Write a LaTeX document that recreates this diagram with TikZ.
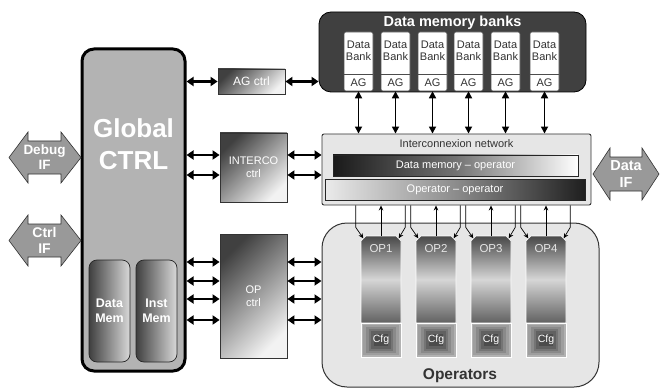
\documentclass[tikz,border=0pt]{standalone}
\usepackage{fontspec}
\setmainfont{Liberation Sans}
\usetikzlibrary{arrows.meta,calc}
\definecolor{dkbox}{HTML}{404040}
\definecolor{ltbox}{HTML}{E6E6E6}
\definecolor{gctrlc}{HTML}{B3B3B3}
\definecolor{txtd}{HTML}{333333}
\definecolor{ifgray}{HTML}{999999}
\begin{document}
\begin{tikzpicture}[x=1pt,y=-1pt,
  dar/.style={line width=2.6pt,{Triangle[width=9pt,length=7pt]}-{Triangle[width=9pt,length=7pt]}},
  var/.style={line width=1.6pt,{Triangle[width=7pt,length=7pt]}-{Triangle[width=7pt,length=7pt]}},
  thinar/.style={line width=0.7pt,-{Stealth[width=4.5pt,length=5pt]}},
  ctrlbox/.style={draw=black!80,line width=0.8pt,top color=black!75,bottom color=black!5,shading angle=45,text=white,align=center,inner sep=0pt,font=\fontsize{11}{13}\selectfont},
  memblk/.style={draw=black!85,line width=0.7pt,rounded corners=8pt,left color=black!75,right color=black!15,inner sep=0pt,minimum width=41pt,minimum height=102pt,text=white,align=center,font=\bfseries\fontsize{12.5}{15}\selectfont},
  iffill/.style={draw=black!80,line width=0.6pt,fill=ifgray},
  iftext/.style={text=white,align=center,font=\bfseries\fontsize{14}{16}\selectfont},
  bankbox/.style={draw=black!70,line width=0.6pt,fill=white,rounded corners=2pt,minimum width=29pt,minimum height=59pt,inner sep=0pt},
  banktext/.style={text=txtd,align=center,font=\fontsize{11}{12}\selectfont},
  optext/.style={text=white!90!black,font=\fontsize{11.5}{13}\selectfont},
  cfgbox/.style={draw=white,line width=0.8pt,fill=black!30,minimum width=40pt,minimum height=34pt,inner sep=0pt},
]
\useasboundingbox (0,0) rectangle (660,390);
\fill[white] (0,0) rectangle (660,390);

% Global CTRL
\node[draw=black,line width=3pt,fill=gctrlc,rounded corners=12pt,minimum width=103pt,minimum height=322pt,inner sep=0pt] (gctrl) at (133.5,210) {};
\node[text=white,align=center,font=\bfseries\fontsize{26}{32}\selectfont] (gtitle) at (133.5,144) {Global\\CTRL};
\node[memblk] (dmem) at (109.5,311) {Data\\Mem};
\node[memblk] (imem) at (156.5,311) {Inst\\Mem};

% IF arrows
\draw[iffill] (9,157.5) -- (28,132) -- (28,141) -- (61,141) -- (61,132) -- (81,157.5) -- (61,183) -- (61,174) -- (28,174) -- (28,183) -- cycle;
\node[iftext,font=\bfseries\fontsize{13.5}{15}\selectfont] (debugif) at (44.5,157.5) {Debug\\IF};
\draw[iffill] (9,240.5) -- (28,215) -- (28,224) -- (61,224) -- (61,215) -- (81,240.5) -- (61,266) -- (61,257) -- (28,257) -- (28,266) -- cycle;
\node[iftext] (ctrlif) at (44.5,240.5) {Ctrl\\IF};
\draw[iffill] (593,174) -- (610,148) -- (610,157) -- (642,157) -- (642,148) -- (659,174) -- (642,200) -- (642,191) -- (610,191) -- (610,200) -- cycle;
\node[iftext,font=\bfseries\fontsize{14.5}{17}\selectfont] (dataif) at (626,174) {Data\\IF};

% controllers
\node[ctrlbox,minimum width=67pt,minimum height=25pt,font=\fontsize{12}{14}\selectfont] (agctrl) at (251.5,81.5) {AG ctrl};
\node[ctrlbox,minimum width=67pt,minimum height=69pt] (interco) at (253.5,167.5) {INTERCO\\ctrl};
\node[ctrlbox,minimum width=67pt,minimum height=124pt] (opctrl) at (253.5,296) {OP\\ctrl};

% Data memory banks
\node[draw=black,line width=0.8pt,fill=dkbox,rounded corners=12pt,minimum width=267pt,minimum height=80pt,inner sep=0pt] (banks) at (452.5,52) {};
\node[text=white,font=\bfseries\fontsize{14.5}{16}\selectfont] (bankstitle) at (452.5,23) {Data memory banks};
\foreach \i/\x in {1/358.5,2/395.5,3/432.5,4/468.5,5/505.5,6/544.5}{
  \node[bankbox] (bank\i) at (\x,61.5) {};
  \draw[black!70,line width=0.6pt] ($(bank\i.south west)+(0,-17)$) -- ($(bank\i.south east)+(0,-17)$);
  \node[banktext] (bd\i) at (\x,51) {Data\\Bank};
  \node[banktext] (ag\i) at (\x,83) {AG};
}

% Interconnexion network
\node[draw=black!80,line width=0.9pt,fill=ltbox,rounded corners=2pt,minimum width=269pt,minimum height=71pt,inner sep=0pt] (net) at (456.5,169.5) {};
\node[text=txtd,font=\fontsize{11}{13}\selectfont] (nettitle) at (456.5,144) {Interconnexion network};
\node[draw=black!85,line width=0.7pt,left color=black!90,right color=white,middle color=black!55,minimum width=245pt,minimum height=21pt,inner sep=0pt,text=white,font=\fontsize{11}{13}\selectfont] (dmop) at (455.5,165.5) {Data memory -- operator};
\node[draw=black!85,line width=0.7pt,left color=black!8,right color=black!88,middle color=black!45,minimum width=260pt,minimum height=21pt,inner sep=0pt,text=white,font=\fontsize{11}{13}\selectfont] (opop) at (455,189.5) {Operator -- operator};

% Operators
\node[draw=black!80,line width=1pt,fill=ltbox,rounded corners=25pt,minimum width=277pt,minimum height=164pt,inner sep=0pt] (ops) at (460.5,305) {};
\node[text=txtd,font=\bfseries\fontsize{15.5}{18}\selectfont] (opstitle) at (460,376) {Operators};
\foreach \i/\L in {1/361,2/416,3/471,4/526}{
  \node[minimum width=40pt,minimum height=87pt,inner sep=0pt] (op\i) at (\L+20,279.5) {};
  \shade[top color=black!72,bottom color=black!62,middle color=black!16,draw=white,line width=0.6pt]
    (\L,241) -- (\L+5,236) -- (\L+35,236) -- (\L+40,241) -- (\L+40,323) -- (\L,323) -- cycle;
  \node[optext] (opl\i) at (\L+20,249) {OP\i};
  \node[cfgbox] (cfg\i) at (\L+20,340) {};
  \foreach \k/\c in {1/38,2/46,3/54,4/62,5/70}{
    \fill[black!\c] ($(cfg\i.north west)+(\k*2.7,\k*2.2)$) rectangle ($(cfg\i.south east)+(-\k*2.7,-\k*2.2)$);
  }
  \node[text=white,font=\fontsize{10.5}{12}\selectfont] (cfgt\i) at (cfg\i) {Cfg};
  % connectors network <-> operator
  \coordinate (lft\i) at ($(op\i.north west)+(-5,0)$);
  \coordinate (rgt\i) at ($(op\i.north east)+(4,0)$);
  \draw[thinar] (net.south -| lft\i) -- ++(0,22) -- ($(op\i.north west)+(2.5,2.5)$);
  \draw[thinar] (net.south -| rgt\i) -- ++(0,22) -- ($(op\i.north east)+(-2.5,2.5)$);
  \draw[thinar] (op\i.north) -- (net.south -| op\i.north);
}

% bank <-> network
\foreach \i in {1,...,6}{
  \draw[var] (bank\i.south) -- (net.north -| bank\i.south);
}

% thick double arrows
\draw[dar] (gctrl.east |- agctrl.west) -- (agctrl.west);
\draw[dar] (agctrl.east) -- (banks.west |- agctrl.east);
\foreach \y in {155,175}{
  \draw[dar] (gctrl.east |- 0,\y) -- (interco.west |- 0,\y);
  \draw[dar] (interco.east |- 0,\y) -- (net.west |- 0,\y);
}
\foreach \y in {262,281,299,320}{
  \draw[dar] (gctrl.east |- 0,\y) -- (opctrl.west |- 0,\y);
  \draw[dar] (opctrl.east |- 0,\y) -- (ops.west |- 0,\y);
}
\end{tikzpicture}
\end{document}
